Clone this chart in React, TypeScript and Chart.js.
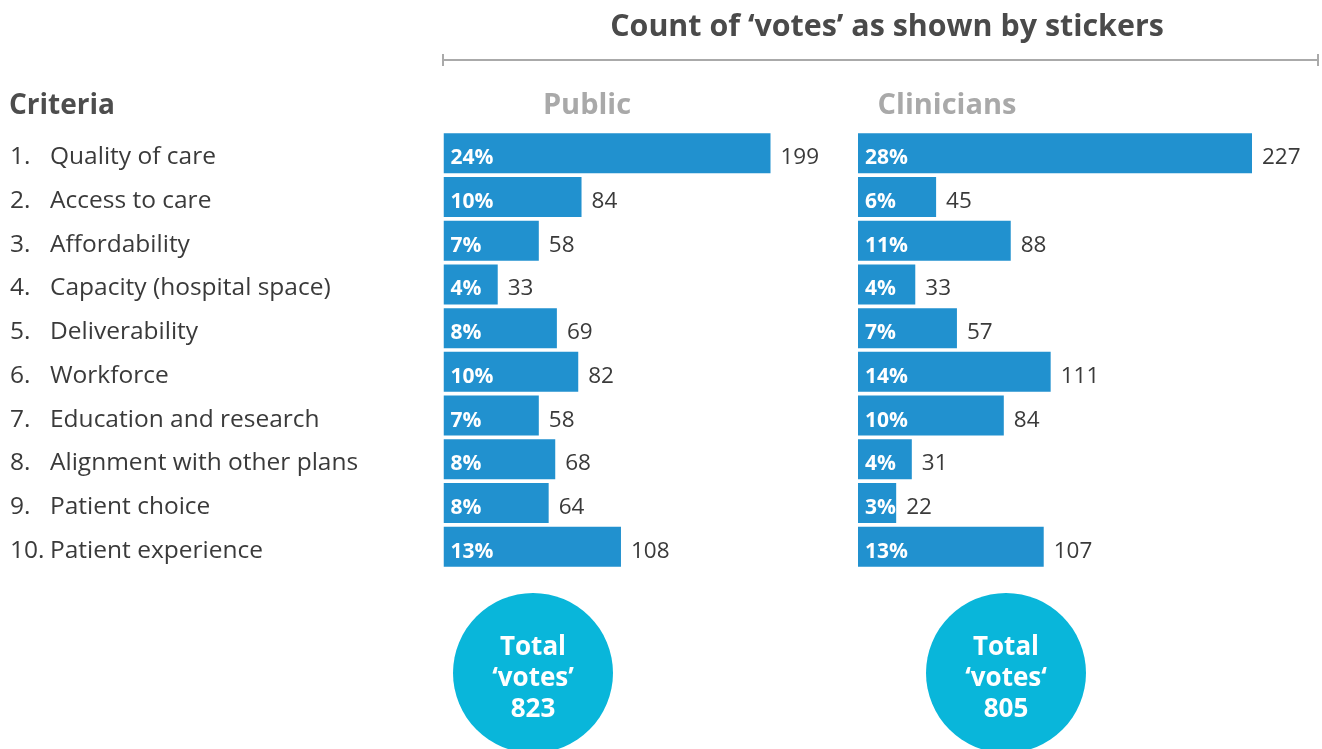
import React, { useEffect, useRef } from "react";
import { Chart, registerables } from "chart.js";

Chart.register(...registerables);

const criteria = [
  "Quality of care",
  "Access to care",
  "Affordability",
  "Capacity (hospital space)",
  "Deliverability",
  "Workforce",
  "Education and research",
  "Alignment with other plans",
  "Patient choice",
  "Patient experience",
];
const criteriaNumbers = ["1.", "2.", "3.", "4.", "5.", "6.", "7.", "8.", "9.", "10."];

const publicVotes = [199, 84, 58, 33, 69, 82, 58, 68, 64, 108];
const publicPct = ["24%", "10%", "7%", "4%", "8%", "10%", "7%", "8%", "8%", "13%"];
const clinicianVotes = [227, 45, 88, 33, 57, 111, 84, 31, 22, 107];
const clinicianPct = ["28%", "6%", "11%", "4%", "7%", "14%", "10%", "4%", "3%", "13%"];

const publicTotalLines = ["Total", "\u2018votes\u2019", "823"];
const clinicianTotalLines = ["Total", "\u2018votes\u2018", "805"];

const titleText = "Count of \u2018votes\u2019 as shown by stickers";
const groupNames = ["Public", "Clinicians"];
const criteriaHeader = "Criteria";

const BAR = "#2191cf";
const CIRCLE = "#09b6da";
const FONT = "'Open Sans', 'Noto Sans', sans-serif";

const W = 1322;
const H = 749;
const AREA_TOP = 131.45;
const AREA_BOTTOM = 568.55;

const labelPlugin = (pct: string[]) => ({
  id: "barLabels",
  afterDatasetsDraw(chart: any) {
    const ctx = chart.ctx;
    const meta = chart.getDatasetMeta(0);
    const data = chart.data.datasets[0].data as number[];
    ctx.save();
    meta.data.forEach((bar: any, i: number) => {
      const left = bar.base;
      ctx.fillStyle = "#ffffff";
      ctx.font = `bold 21px ${FONT}`;
      ctx.textAlign = "left";
      ctx.textBaseline = "alphabetic";
      ctx.fillText(pct[i], left + 7, bar.y + 11);
      ctx.fillStyle = "#3a3a3a";
      ctx.font = `22.5px ${FONT}`;
      ctx.fillText(String(data[i]), bar.x + 10, bar.y + 11);
    });
    ctx.restore();
  },
});

const decorPlugin = {
  id: "decor",
  afterDraw(chart: any) {
    const ctx = chart.ctx;
    const y = chart.scales.y;
    ctx.save();
    // title
    ctx.fillStyle = "#4a4a4a";
    ctx.font = `bold 30.4px ${FONT}`;
    ctx.textAlign = "center";
    ctx.textBaseline = "alphabetic";
    ctx.fillText(titleText, 887, 36);
    // bracket
    ctx.strokeStyle = "#aaaaaa";
    ctx.lineWidth = 2;
    ctx.beginPath();
    ctx.moveTo(443, 60);
    ctx.lineTo(1318, 60);
    ctx.moveTo(443, 54);
    ctx.lineTo(443, 66);
    ctx.moveTo(1318, 54);
    ctx.lineTo(1318, 66);
    ctx.stroke();
    // headers
    ctx.fillStyle = "#a9a9a9";
    ctx.font = `bold 29px ${FONT}`;
    ctx.fillText(groupNames[0], 587, 114);
    ctx.fillText(groupNames[1], 947, 114);
    ctx.fillStyle = "#4d4d4d";
    ctx.textAlign = "left";
    ctx.font = `bold 28px ${FONT}`;
    ctx.fillText(criteriaHeader, 9, 114);
    // criteria
    ctx.fillStyle = "#3a3a3a";
    ctx.font = `24.5px ${FONT}`;
    criteria.forEach((c, i) => {
      const py = y.getPixelForValue(i);
      ctx.fillText(criteriaNumbers[i], 10, py + 11);
      ctx.fillText(c, 50, py + 11);
    });
    // circles
    const circles: [number, string[]][] = [
      [533, publicTotalLines],
      [1006, clinicianTotalLines],
    ];
    circles.forEach(([cx, lines]) => {
      ctx.fillStyle = CIRCLE;
      ctx.beginPath();
      ctx.arc(cx, 673, 80, 0, Math.PI * 2);
      ctx.fill();
      ctx.fillStyle = "#ffffff";
      ctx.font = `bold 26px ${FONT}`;
      ctx.textAlign = "center";
      lines.forEach((l, k) => ctx.fillText(l, cx, 655 + k * 31));
    });
    ctx.restore();
  },
};

function makeConfig(values: number[], pct: string[], xMax: number, pad: any, extra: any[]) {
  return {
    type: "bar" as const,
    data: {
      labels: criteria,
      datasets: [
        {
          data: values,
          backgroundColor: BAR,
          borderWidth: 0,
          barPercentage: 0.915,
          categoryPercentage: 1,
        },
      ],
    },
    options: {
      indexAxis: "y" as const,
      animation: false as const,
      responsive: false,
      maintainAspectRatio: false,
      layout: { padding: pad },
      plugins: { legend: { display: false }, tooltip: { enabled: false } },
      scales: {
        x: { display: false, min: 0, max: xMax },
        y: { display: false },
      },
    },
    plugins: [labelPlugin(pct), ...extra],
  };
}

export default function App() {
  const pubRef = useRef<HTMLCanvasElement>(null);
  const cliRef = useRef<HTMLCanvasElement>(null);

  useEffect(() => {
    const pubLeft = 443.5;
    const pubScale = 327 / 199;
    const pubMax = 240;
    const pubChart = new Chart(
      pubRef.current!,
      makeConfig(
        publicVotes,
        publicPct,
        pubMax,
        { left: pubLeft, right: W - pubLeft - pubMax * pubScale, top: AREA_TOP, bottom: H - AREA_BOTTOM },
        [decorPlugin]
      ) as any
    );
    const cliCanvasLeft = 840;
    const cliW = W - cliCanvasLeft;
    const cliLeft = 858 - cliCanvasLeft;
    const cliScale = 394 / 227;
    const cliMax = 250;
    const cliChart = new Chart(
      cliRef.current!,
      makeConfig(
        clinicianVotes,
        clinicianPct,
        cliMax,
        { left: cliLeft, right: cliW - cliLeft - cliMax * cliScale, top: AREA_TOP, bottom: H - AREA_BOTTOM },
        []
      ) as any
    );
    return () => {
      pubChart.destroy();
      cliChart.destroy();
    };
  }, []);

  return (
    <div style={{ position: "fixed", left: 0, top: 0, width: W, height: H, background: "#fff", overflow: "hidden" }}>
      <canvas ref={pubRef} width={W} height={H} style={{ position: "absolute", left: 0, top: 0, width: W, height: H }} />
      <canvas
        ref={cliRef}
        width={W - 840}
        height={H}
        style={{ position: "absolute", left: 840, top: 0, width: W - 840, height: H }}
      />
    </div>
  );
}
